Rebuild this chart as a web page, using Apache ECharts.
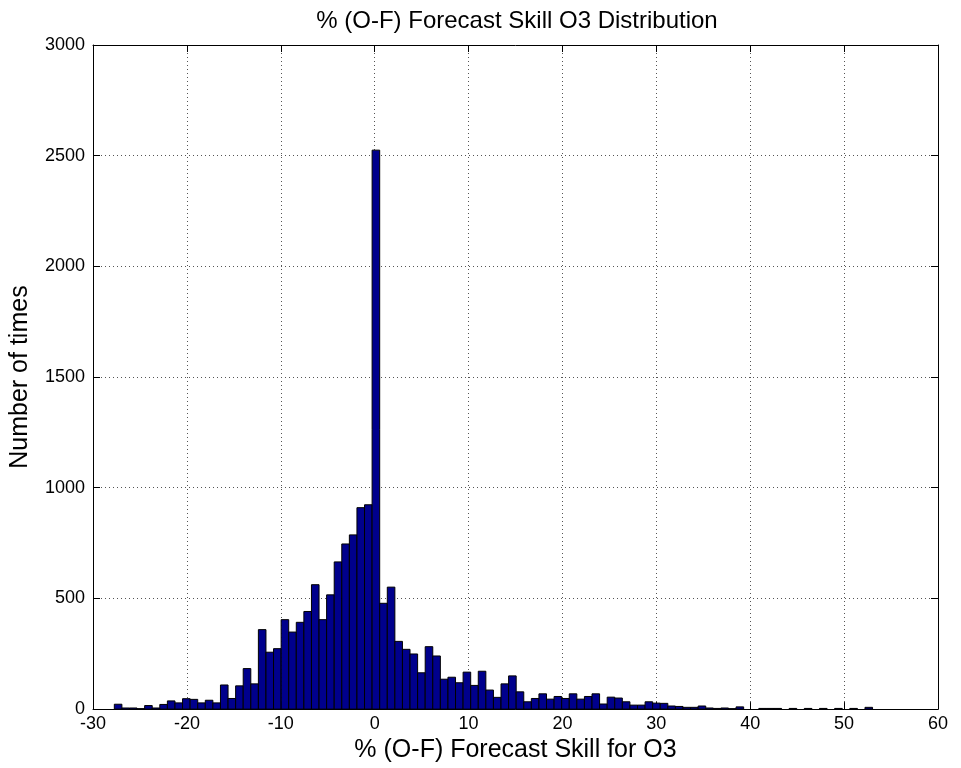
<!DOCTYPE html>
<html>
<head>
<meta charset="utf-8">
<script src="https://cdn.jsdelivr.net/npm/echarts@6/dist/echarts.min.js"></script>
<style>
html,body{margin:0;padding:0;background:#fff;}
#c{width:961px;height:768px;}
</style>
</head>
<body>
<div id="c"></div>
<script>
// Histogram definition (100 bins between the data min and max)
var binLow = -27.73;
var binHigh = 53.03;
var binCount = 100;

// Counts per bin
var counts = [
  22, 5, 5, 2, 16, 5, 21, 37, 28, 47,
  44, 28, 40, 28, 109, 48, 105, 183, 114, 359,
  257, 273, 404, 348, 392, 441, 562, 404, 516, 665,
  746, 787, 910, 923, 2525, 478, 551, 306, 270, 249,
  164, 282, 240, 135, 144, 119, 167, 107, 171, 86,
  53, 114, 150, 78, 33, 48, 69, 45, 57, 48,
  69, 45, 57, 69, 23, 54, 50, 33, 18, 18,
  33, 27, 26, 14, 12, 8, 8, 14, 5, 3,
  5, 2, 10, 0, 0, 3, 3, 3, 0, 3,
  0, 3, 0, 3, 0, 3, 0, 3, 0, 8
];

var xTicks = [-30, -20, -10, 0, 10, 20, 30, 40, 50, 60];
var yTicks = [0, 500, 1000, 1500, 2000, 2500, 3000];

var titleText = '% (O-F) Forecast Skill O3 Distribution';
var xName = '% (O-F) Forecast Skill for O3';
var yName = 'Number of times';

var binWidth = (binHigh - binLow) / binCount;
var data = counts.map(function (c, i) {
  return [binLow + i * binWidth, binLow + (i + 1) * binWidth, c];
});

var font = 'Liberation Sans, Arial, Helvetica, sans-serif';
var chart = echarts.init(document.getElementById('c'), null, {renderer: 'canvas'});

var gridLine = {show: true, lineStyle: {color: '#555', type: [1, 3], width: 1}};
var axisLine = {show: true, onZero: false, lineStyle: {color: '#000', width: 1}};
var tickIn = {show: true, inside: true, length: 7, lineStyle: {color: '#000'}};
var plain = function (v) { return String(v); };

chart.setOption({
  animation: false,
  backgroundColor: '#fff',
  title: {
    text: titleText,
    left: 512, textAlign: 'center', top: 4,
    textStyle: {fontFamily: font, fontSize: 24, fontWeight: 'normal', color: '#000'}
  },
  grid: {left: 93, right: 23, top: 45, bottom: 57, containLabel: false},
  xAxis: [{
    type: 'value', min: xTicks[0], max: xTicks[xTicks.length - 1], interval: 10,
    position: 'bottom',
    axisLine: axisLine, axisTick: tickIn, splitLine: gridLine,
    axisLabel: {fontFamily: font, fontSize: 18, color: '#000', margin: 6, formatter: plain},
    name: xName, nameLocation: 'middle', nameGap: 24,
    nameTextStyle: {fontFamily: font, fontSize: 25, color: '#000', verticalAlign: 'top'}
  }, {
    type: 'value', min: xTicks[0], max: xTicks[xTicks.length - 1], interval: 10,
    position: 'top',
    axisLine: axisLine, axisTick: tickIn, splitLine: {show: false},
    axisLabel: {show: false}
  }],
  yAxis: [{
    type: 'value', min: yTicks[0], max: yTicks[yTicks.length - 1], interval: 500,
    position: 'left',
    axisLine: axisLine, axisTick: tickIn, splitLine: gridLine,
    axisLabel: {fontFamily: font, fontSize: 18, color: '#000', margin: 8, formatter: plain},
    name: yName, nameLocation: 'middle', nameGap: 60,
    nameTextStyle: {fontFamily: font, fontSize: 25, color: '#000'}
  }, {
    type: 'value', min: yTicks[0], max: yTicks[yTicks.length - 1], interval: 500,
    position: 'right',
    axisLine: axisLine, axisTick: tickIn, splitLine: {show: false},
    axisLabel: {show: false}
  }],
  series: [{
    type: 'custom',
    xAxisIndex: 0, yAxisIndex: 0,
    data: data,
    encode: {x: [0, 1], y: 2},
    renderItem: function (params, api) {
      var h = api.value(2);
      if (h <= 0) return null;
      var p0 = api.coord([api.value(0), h]);
      var p1 = api.coord([api.value(1), 0]);
      return {
        type: 'rect',
        shape: {x: p0[0], y: p0[1], width: p1[0] - p0[0], height: p1[1] - p0[1]},
        style: {fill: '#00008c', stroke: '#000', lineWidth: 1}
      };
    }
  }]
});
</script>
</body>
</html>
